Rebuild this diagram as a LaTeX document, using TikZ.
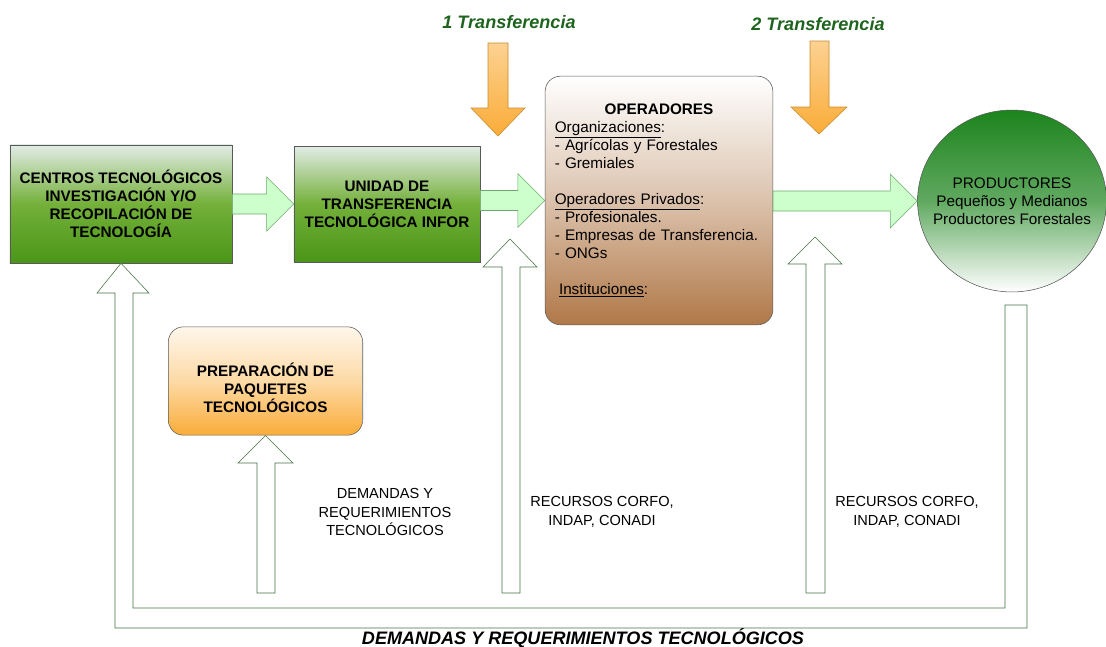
\documentclass[tikz,border=0pt]{standalone}
\usepackage{fontspec}
\setmainfont{Liberation Sans}
\usetikzlibrary{shapes.geometric,calc}

\definecolor{verdeclaro}{RGB}{226,236,230}
\definecolor{verdemed}{RGB}{116,176,58}
\definecolor{verdeosc}{RGB}{74,150,24}
\definecolor{verdecirc}{RGB}{28,132,28}
\definecolor{cafe}{RGB}{176,120,72}
\definecolor{naranja}{RGB}{250,172,56}
\definecolor{verdeflecha}{RGB}{204,255,204}
\definecolor{bordeflecha}{RGB}{110,170,110}
\definecolor{bordehueco}{RGB}{70,115,70}
\definecolor{titverde}{RGB}{30,100,30}

% flecha horizontal gruesa entre dos nodos
\newcommand{\flechah}[2]{%
  \draw[flecha] ($(#1 |- #2)+(0,-10)$) -- ($(#2)+(-27,-10)$) -- ($(#2)+(-27,-27)$) -- (#2)
    -- ($(#2)+(-27,27)$) -- ($(#2)+(-27,10)$) -- ($(#1 |- #2)+(0,10)$) -- cycle;}

\begin{document}
\begin{tikzpicture}[x=0.72pt, y=-0.72pt,
    caja/.style={draw=black!65, thin, align=center, inner sep=2pt,
      font=\fontsize{11}{13}\selectfont\bfseries},
    verde/.style={caja, top color=verdeclaro, bottom color=verdeosc, middle color=verdemed},
    flecha/.style={draw=bordeflecha, fill=verdeflecha, thin},
    hueco/.style={draw=bordehueco, fill=white, thin},
    bajada/.style={draw=naranja!80!black, top color=naranja!55!white, bottom color=naranja, thin},
    etiqueta/.style={align=center, font=\fontsize{10.5}{13.5}\selectfont},
    transf/.style={font=\fontsize{13}{15}\selectfont\bfseries\itshape, text=titverde}]
  \useasboundingbox (0,0) rectangle (1106,647);

  \node[verde, minimum width=160pt, minimum height=85pt] (cen) at (121,204)
    {CENTROS TECNOLÓGICOS\\INVESTIGACIÓN Y/O\\RECOPILACIÓN DE\\TECNOLOGÍA};
  \node[verde, minimum width=134pt, minimum height=83.5pt] (uni) at (387,204)
    {UNIDAD DE\\TRANSFERENCIA\\TECNOLÓGICA INFOR};
  \node[caja, rounded corners=11pt, minimum width=164pt, minimum height=179pt, text width=150pt,
    align=left, font=\fontsize{11}{13}\selectfont, top color=white, bottom color=cafe, middle color=cafe!45]
    (ope) at (659,200.5)
    {\makebox[150pt]{\bfseries OPERADORES}\\
     \underline{Organizaciones}:\\
     - Agrícolas y Forestales\\
     - Gremiales\\[13pt]
     \underline{Operadores Privados}:\\
     - Profesionales.\\
     - Empresas de Transferencia.\\
     - ONGs\\[13pt]
     \hspace{3pt}\underline{Instituciones}:\\[5pt]};
  \node[ellipse, draw=black!65, thin, minimum width=136pt, minimum height=131pt,
    inner xsep=-10pt, inner ysep=0pt, align=center, font=\fontsize{11}{13}\selectfont,
    top color=verdecirc, bottom color=white, middle color=verdecirc!70]
    (pro) at (1012,201) {PRODUCTORES\\Pequeños y Medianos\\Productores Forestales};
  \node[caja, rounded corners=11pt, minimum width=140pt, minimum height=78pt,
    top color=naranja!10, bottom color=naranja, middle color=naranja!45] (pre) at (265.5,381)
    {\rule{0pt}{20pt}PREPARACIÓN DE\\PAQUETES\\TECNOLÓGICOS};

  \flechah{cen.east}{uni.west}
  \flechah{uni.east}{ope.west}
  \flechah{ope.east}{pro.west}

  \node[transf] (t1) at (509,22) {1 Transferencia};
  \node[transf] (t2) at (818,24) {2 Transferencia};
  \draw[bajada] (488,43) -- (508,43) -- (508,108) -- (525,108) -- (498,136) -- (471,108) -- (488,108) -- cycle;
  \draw[bajada] (810,41) -- (829,41) -- (829,107) -- (847,107) -- (819,134) -- (791,107) -- (810,107) -- cycle;

  \draw[hueco] (257,593) -- (257,463) -- (238,463) -- (pre.south) -- (293,463) -- (275,463) -- (275,593) -- cycle;
  \draw[hueco] (502,593) -- (502,267) -- (483,267) -- (510,239) -- (537,267) -- (520,267) -- (520,593) -- cycle;
  \draw[hueco] (806,593) -- (806,264) -- (788,264) -- (815,237) -- (842,264) -- (825,264) -- (825,593) -- cycle;
  \draw[hueco] (1005,305) -- (1027,305) -- (1027,628) -- (115,628) -- (115,293) -- (97,293)
    -- (cen.south) -- (149,293) -- (133,293) -- (133,608) -- (1005,608) -- cycle;

  \node[etiqueta] (dem) at (385,512) {DEMANDAS Y\\REQUERIMIENTOS\\TECNOLÓGICOS};
  \node[etiqueta] (rec1) at (602,512) {RECURSOS CORFO,\\INDAP, CONADI};
  \node[etiqueta] (rec2) at (907,512) {RECURSOS CORFO,\\INDAP, CONADI};
  \node[font=\fontsize{13}{15}\selectfont\bfseries\itshape] (tit) at (583,638)
    {DEMANDAS Y REQUERIMIENTOS TECNOLÓGICOS};
\end{tikzpicture}
\end{document}
